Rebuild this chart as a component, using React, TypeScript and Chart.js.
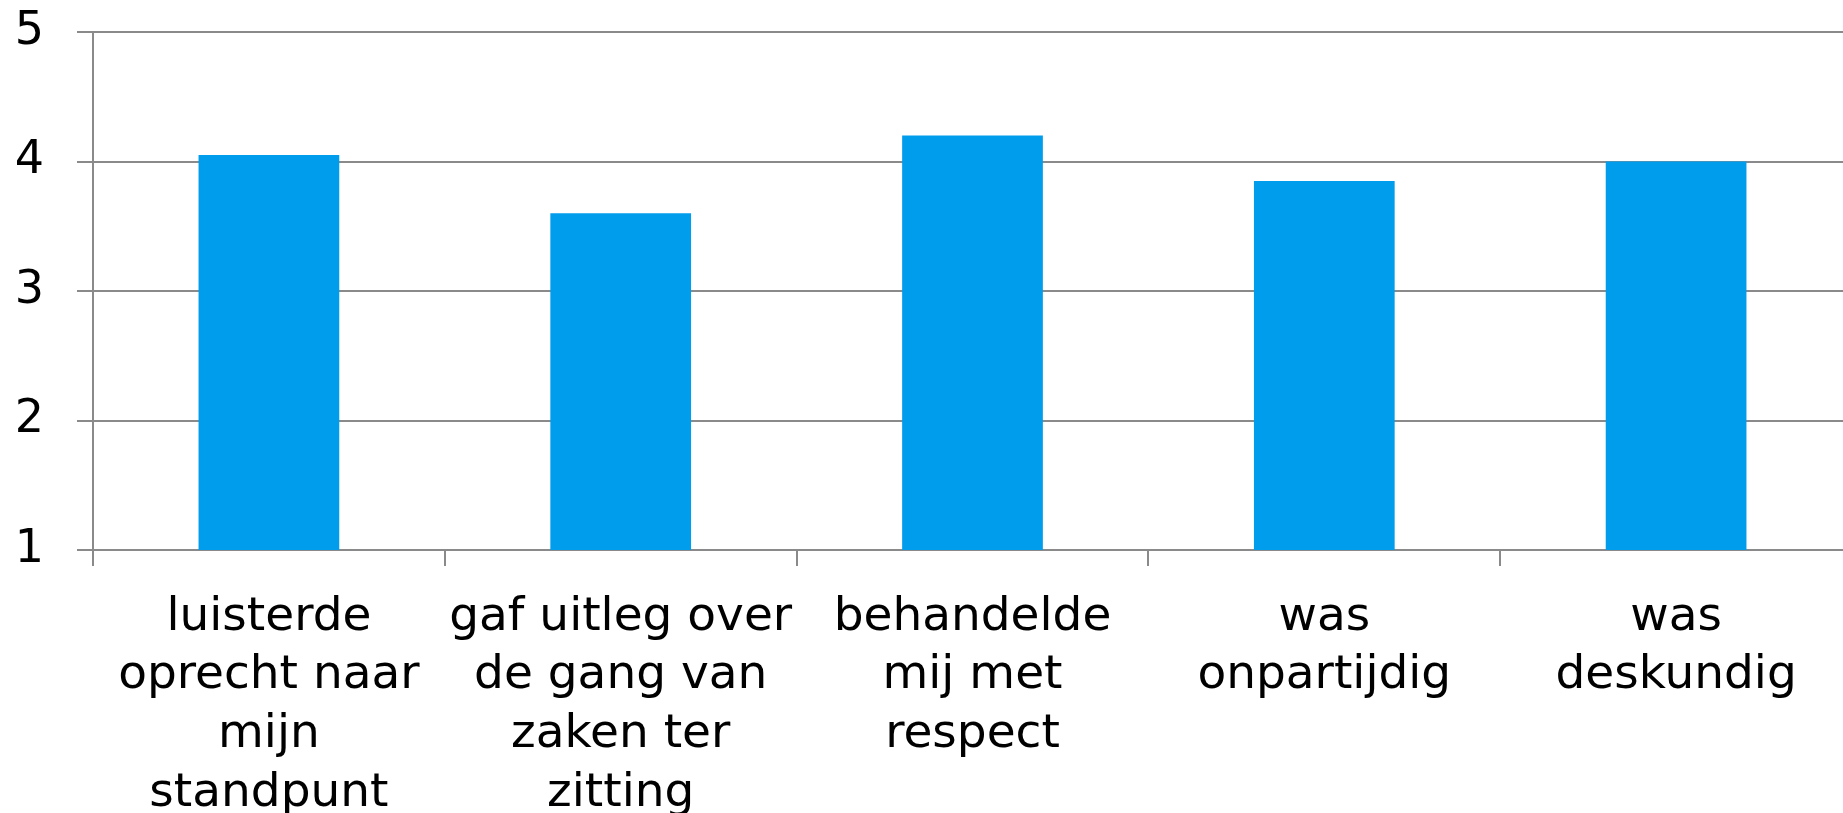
import React, { useEffect, useRef } from "react";
import { Chart, registerables } from "chart.js";

Chart.register(...registerables);

const categories: string[][] = [
  ["luisterde", "oprecht naar", "mijn", "standpunt"],
  ["gaf uitleg over", "de gang van", "zaken ter", "zitting"],
  ["behandelde", "mij met", "respect"],
  ["was", "onpartijdig"],
  ["was", "deskundig"],
];

const scores: number[] = [4.05, 3.6, 4.2, 3.85, 4.0];

const yTicks: number[] = [1, 2, 3, 4, 5];

const BAR_COLOR = "#009DED";
const GRID_COLOR = "#8a8a8a";
const FONT = "'DejaVu Sans', sans-serif";

export default function App() {
  const canvasRef = useRef<HTMLCanvasElement | null>(null);

  useEffect(() => {
    if (!canvasRef.current) return;
    const chart = new Chart(canvasRef.current, {
      type: "bar",
      data: {
        labels: categories,
        datasets: [
          {
            data: scores,
            backgroundColor: BAR_COLOR,
            borderWidth: 0,
            barPercentage: 0.4,
            categoryPercentage: 1.0,
          },
        ],
      },
      options: {
        animation: false,
        responsive: false,
        maintainAspectRatio: false,
        layout: { padding: { top: 32, left: 0, right: 0, bottom: 0 } },
        plugins: {
          legend: { display: false },
          tooltip: { enabled: false },
          title: { display: false },
        },
        scales: {
          x: {
            offset: true,
            grid: {
              display: true,
              drawOnChartArea: false,
              drawTicks: true,
              tickLength: 16,
              color: GRID_COLOR,
              lineWidth: 2,
              offset: true,
            },
            border: { display: true, color: GRID_COLOR, width: 2 },
            ticks: {
              color: "#000000",
              font: { family: FONT, size: 47, lineHeight: 1.25 },
              padding: 22,
              maxRotation: 0,
              minRotation: 0,
              autoSkip: false,
            },
            afterFit: (s: any) => {
              s.height = 263;
              s.paddingLeft = 0;
              s.paddingRight = 0;
            },
          },
          y: {
            min: 1,
            max: 5,
            afterBuildTicks: (s: any) => {
              s.ticks = yTicks.map((v) => ({ value: v }));
            },
            grid: {
              color: GRID_COLOR,
              lineWidth: 2,
              drawTicks: true,
              tickLength: 16,
            },
            border: { display: true, color: GRID_COLOR, width: 2 },
            ticks: {
              color: "#000000",
              font: { family: FONT, size: 46 },
              padding: 33,
            },
            afterFit: (s: any) => {
              s.width = 93;
              s.paddingTop = 0;
              s.paddingBottom = 0;
            },
          },
        },
      },
    });
    return () => chart.destroy();
  }, []);

  return (
    <div
      style={{
        position: "fixed",
        left: 0,
        top: 0,
        width: "100vw",
        height: "100vh",
        overflow: "hidden",
        background: "#ffffff",
      }}
    >
      <canvas
        ref={canvasRef}
        width={1852}
        height={813}
        style={{ display: "block", width: 1852, height: 813 }}
      />
    </div>
  );
}
